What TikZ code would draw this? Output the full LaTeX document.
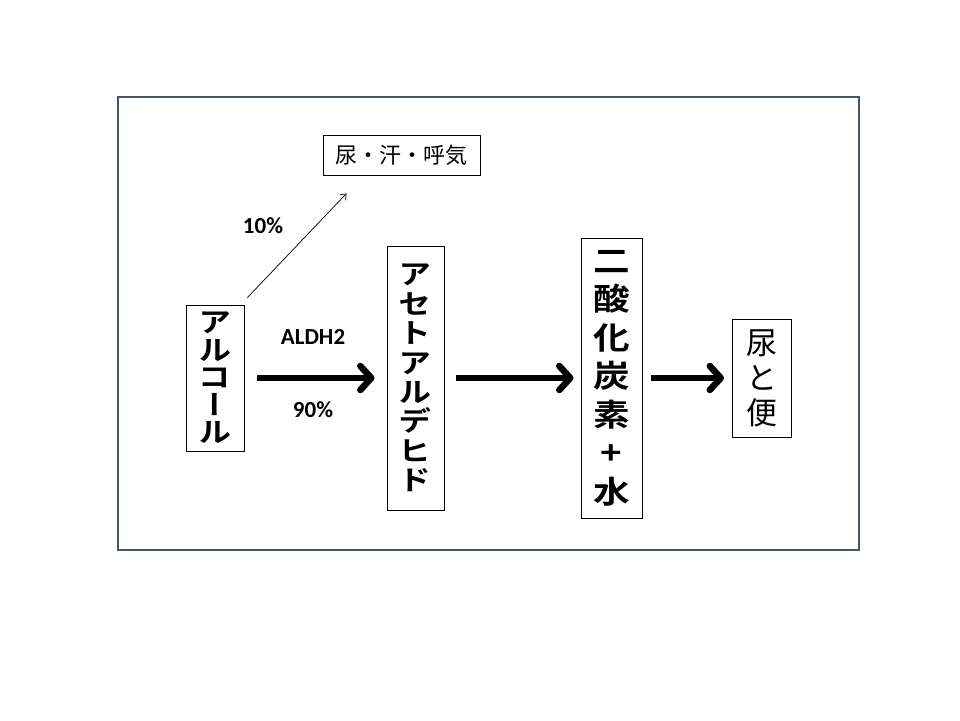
\documentclass[tikz,border=0pt]{standalone}
\usepackage{fontspec}
\setmainfont{Carlito}
\newfontfamily\cjk{Noto Sans CJK JP}[BoldFont={Noto Sans CJK JP Bold}]
\newfontfamily\cjkv{Noto Sans CJK JP}[BoldFont={Noto Sans CJK JP Bold},BoldFeatures={FakeStretch=1.18},RawFeature=+vert]
\usetikzlibrary{arrows.meta}
\definecolor{framec}{HTML}{41566F}
\tikzset{
  box/.style={draw=black, line width=0.9pt, inner sep=0pt, anchor=center, align=center},
  bigarrow/.style={line width=6.5pt, -{Straight Barb[length=11pt,width=24pt,round]}},
  thinarrow/.style={line width=0.7pt, -{Straight Barb[length=5pt,width=8pt]}},
  lbl/.style={font=\bfseries\fontsize{23}{23}\selectfont, inner sep=0pt}
}
\begin{document}
\begin{tikzpicture}[x=1pt,y=-1pt]
\useasboundingbox[fill=white] (0,0) rectangle (960,720);
\node[draw=framec, line width=2.2pt, minimum width=741pt, minimum height=453pt, anchor=north west, inner sep=0pt] (frame) at (117,96) {};

\node[box, minimum width=157pt, minimum height=40pt, font=\cjk\fontsize{22}{22}\selectfont] (sweat) at (401.5,155) {尿・汗・呼気};

\node[box, minimum width=58pt, minimum height=146pt, font=\cjkv\bfseries\fontsize{28}{27.5}\selectfont] (alc) at (215,378) {ア\\ル\\コ\\ー\\ル};

\node[box, minimum width=57pt, minimum height=264pt, font=\cjkv\bfseries\fontsize{28}{29.4}\selectfont] (acet) at (415.5,378) {ア\\セ\\ト\\ア\\ル\\デ\\ヒ\\ド};

\node[box, minimum width=61pt, minimum height=280pt, font=\cjkv\bfseries\fontsize{31}{38.5}\selectfont] (co2) at (611.5,378) {二\\酸\\化\\炭\\素\\+\\水};

\node[box, minimum width=59pt, minimum height=118pt, font=\cjk\fontsize{31}{35}\selectfont] (ben) at (762,378) {尿\\と\\便};

\draw[bigarrow] ([xshift=13pt]alc.east) -- ([xshift=-12pt]acet.west);
\draw[bigarrow] ([xshift=12pt]acet.east) -- ([xshift=-7pt]co2.west);
\draw[bigarrow] ([xshift=9pt]co2.east) -- ([xshift=-8pt]ben.west);

\coordinate (thinend) at ([shift={(-55pt,-18pt)}]sweat.south);
\draw[thinarrow] ([shift={(3pt,7pt)}]alc.north east) -- (thinend);

\node[lbl] (p10) at (263,226) {10\%};
\node[lbl] (aldh) at (313,337) {ALDH2};
\node[lbl] (p90) at (313,410) {90\%};
\end{tikzpicture}
\end{document}
